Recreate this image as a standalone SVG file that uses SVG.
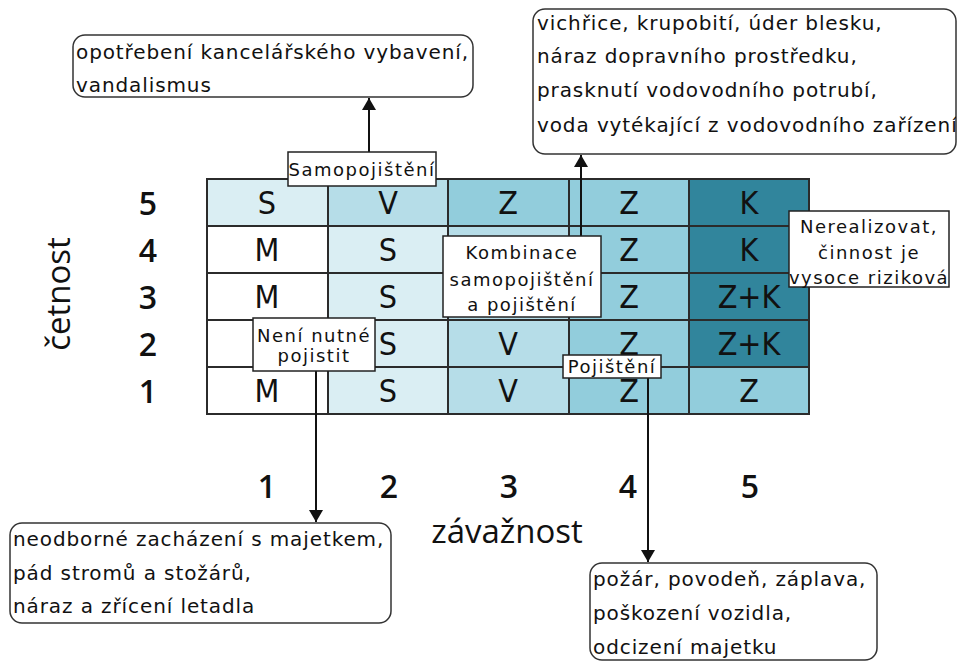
<svg xmlns="http://www.w3.org/2000/svg" width="960" height="662" viewBox="0 0 960 662">
<style>
.bg{fill:#ffffff}
.c0{fill:#ffffff}
.c1{fill:#DAEEF3}
.c2{fill:#B6DDE8}
.c3{fill:#92CDDC}
.c4{fill:#31859C}
.grid{fill:none;stroke:#2b2b2b;stroke-width:2}
.cell{font-family:"DejaVu Sans Condensed","DejaVu Sans",sans-serif;font-size:32px;fill:#111;text-anchor:middle}
.axisnum{font-family:"Open Sans","Noto Sans",sans-serif;font-size:32px;font-weight:600;fill:#111;text-anchor:middle}
.axis{font-family:"Open Sans","Noto Sans",sans-serif;font-size:33px;fill:#111;text-anchor:middle}
.lbl{fill:#ffffff;stroke:#222;stroke-width:1.5}
.call{fill:#ffffff;stroke:#333;stroke-width:1.5}
.t{font-family:"DejaVu Sans",sans-serif;font-size:18px;letter-spacing:1.5px;fill:#111}
.t2{font-family:"DejaVu Sans",sans-serif;font-size:20px;letter-spacing:0.9px;fill:#111}
.tc{text-anchor:middle}
.conn{fill:none;stroke:#111;stroke-width:2}
</style>
<defs>
<marker id="arr" viewBox="0 0 12 14" refX="12" refY="7" markerWidth="12" markerHeight="14" markerUnits="userSpaceOnUse" orient="auto">
<path d="M0,0 L12,7 L0,14 Z" fill="#111"/>
</marker>
<clipPath id="clipTR"><rect x="533" y="9" width="423" height="145"/></clipPath>
</defs>
<rect class="bg" x="0" y="0" width="960" height="662"/>

<g id="matrix">
<rect class="c1" x="207" y="179" width="121" height="47"/>
<rect class="c2" x="328" y="179" width="120" height="47"/>
<rect class="c3" x="448" y="179" width="121" height="47"/>
<rect class="c3" x="569" y="179" width="120" height="47"/>
<rect class="c4" x="689" y="179" width="120" height="47"/>
<rect class="c0" x="207" y="226" width="121" height="47"/>
<rect class="c1" x="328" y="226" width="120" height="47"/>
<rect class="c2" x="448" y="226" width="121" height="47"/>
<rect class="c3" x="569" y="226" width="120" height="47"/>
<rect class="c4" x="689" y="226" width="120" height="47"/>
<rect class="c0" x="207" y="273" width="121" height="47"/>
<rect class="c1" x="328" y="273" width="120" height="47"/>
<rect class="c2" x="448" y="273" width="121" height="47"/>
<rect class="c3" x="569" y="273" width="120" height="47"/>
<rect class="c4" x="689" y="273" width="120" height="47"/>
<rect class="c0" x="207" y="320" width="121" height="47"/>
<rect class="c1" x="328" y="320" width="120" height="47"/>
<rect class="c2" x="448" y="320" width="121" height="47"/>
<rect class="c3" x="569" y="320" width="120" height="47"/>
<rect class="c4" x="689" y="320" width="120" height="47"/>
<rect class="c0" x="207" y="367" width="121" height="47"/>
<rect class="c1" x="328" y="367" width="120" height="47"/>
<rect class="c2" x="448" y="367" width="121" height="47"/>
<rect class="c3" x="569" y="367" width="120" height="47"/>
<rect class="c3" x="689" y="367" width="120" height="47"/>
<path class="grid" d="M207,179H809V414H207Z M207,226H809 M207,273H809 M207,320H809 M207,367H809 M328,179V414 M448,179V414 M569,179V414 M689,179V414"/>
<text class="cell" x="267" y="214">S</text>
<text class="cell" x="388" y="214">V</text>
<text class="cell" x="508" y="214">Z</text>
<text class="cell" x="629" y="214">Z</text>
<text class="cell" x="749" y="214">K</text>
<text class="cell" x="267" y="261">M</text>
<text class="cell" x="388" y="261">S</text>
<text class="cell" x="629" y="261">Z</text>
<text class="cell" x="749" y="261">K</text>
<text class="cell" x="267" y="308">M</text>
<text class="cell" x="388" y="308">S</text>
<text class="cell" x="629" y="308">Z</text>
<text class="cell" x="749" y="308">Z+K</text>
<text class="cell" x="388" y="355">S</text>
<text class="cell" x="508" y="355">V</text>
<text class="cell" x="629" y="355">Z</text>
<text class="cell" x="749" y="355">Z+K</text>
<text class="cell" x="267" y="402">M</text>
<text class="cell" x="388" y="402">S</text>
<text class="cell" x="508" y="402">V</text>
<text class="cell" x="629" y="402">Z</text>
<text class="cell" x="749" y="402">Z</text>
</g>

<g id="axes">
<text class="axisnum" x="148" y="215">5</text>
<text class="axisnum" x="148" y="262">4</text>
<text class="axisnum" x="148" y="309">3</text>
<text class="axisnum" x="148" y="356">2</text>
<text class="axisnum" x="148" y="403">1</text>
<text class="axisnum" x="267" y="498">1</text>
<text class="axisnum" x="389" y="498">2</text>
<text class="axisnum" x="509" y="498">3</text>
<text class="axisnum" x="628" y="498">4</text>
<text class="axisnum" x="750" y="498">5</text>
<text class="axis" transform="translate(70,294) rotate(-90)">četnost</text>
<text class="axis" x="507" y="543">závažnost</text>
</g>

<g id="connectors">
<line class="conn" x1="369" y1="152" x2="369" y2="98" marker-end="url(#arr)"/>
<line class="conn" x1="581" y1="236" x2="581" y2="155" marker-end="url(#arr)"/>
<line class="conn" x1="316" y1="371" x2="316" y2="522" marker-end="url(#arr)"/>
<line class="conn" x1="648" y1="378" x2="648" y2="562" marker-end="url(#arr)"/>
</g>

<g id="samopojisteni">
<rect class="lbl" x="288" y="152" width="148" height="34"/>
<text class="t tc" x="362" y="176">Samopojištění</text>
</g>

<g id="kombinace">
<rect class="lbl" x="443" y="236" width="158" height="81"/>
<text class="t tc" x="522" y="259">Kombinace</text>
<text class="t tc" x="522" y="286">samopojištění</text>
<text class="t tc" x="522" y="311">a pojištění</text>
</g>

<g id="neni-nutne">
<rect class="lbl" x="253" y="318" width="122" height="53"/>
<text class="t tc" x="314" y="342">Není nutné</text>
<text class="t tc" x="314" y="362">pojistit</text>
</g>

<g id="pojisteni">
<rect class="lbl" x="563" y="355" width="98" height="23"/>
<text class="t tc" x="612" y="373">Pojištění</text>
</g>

<g id="nerealizovat">
<rect class="lbl" x="789" y="211" width="160" height="76"/>
<text class="t tc" x="869" y="233">Nerealizovat,</text>
<text class="t tc" x="869" y="259">činnost je</text>
<text class="t tc" x="869" y="284">vysoce riziková</text>
</g>

<g id="box-top-left">
<rect class="call" x="73" y="35" width="400" height="62" rx="12" ry="12"/>
<text class="t2" x="76" y="59">opotřebení kancelářského vybavení,</text>
<text class="t2" x="76" y="92">vandalismus</text>
</g>

<g id="box-top-right">
<rect class="call" x="533" y="9" width="423" height="145" rx="12" ry="12"/>
<g clip-path="url(#clipTR)">
<text class="t2" x="537" y="30">vichřice, krupobití, úder blesku,</text>
<text class="t2" x="537" y="63">náraz dopravního prostředku,</text>
<text class="t2" x="537" y="97">prasknutí vodovodního potrubí,</text>
<text class="t2" x="537" y="132">voda vytékající z vodovodního zařízení</text>
</g>
</g>

<g id="box-bottom-left">
<rect class="call" x="10" y="523" width="381" height="100" rx="12" ry="12"/>
<text class="t2" x="13" y="546">neodborné zacházení s majetkem,</text>
<text class="t2" x="13" y="580">pád stromů a stožárů,</text>
<text class="t2" x="13" y="613">náraz a zřícení letadla</text>
</g>

<g id="box-bottom-right">
<rect class="call" x="590" y="563" width="287" height="97" rx="12" ry="12"/>
<text class="t2" x="593" y="586">požár, povodeň, záplava,</text>
<text class="t2" x="593" y="620">poškození vozidla,</text>
<text class="t2" x="593" y="654">odcizení majetku</text>
</g>
</svg>
